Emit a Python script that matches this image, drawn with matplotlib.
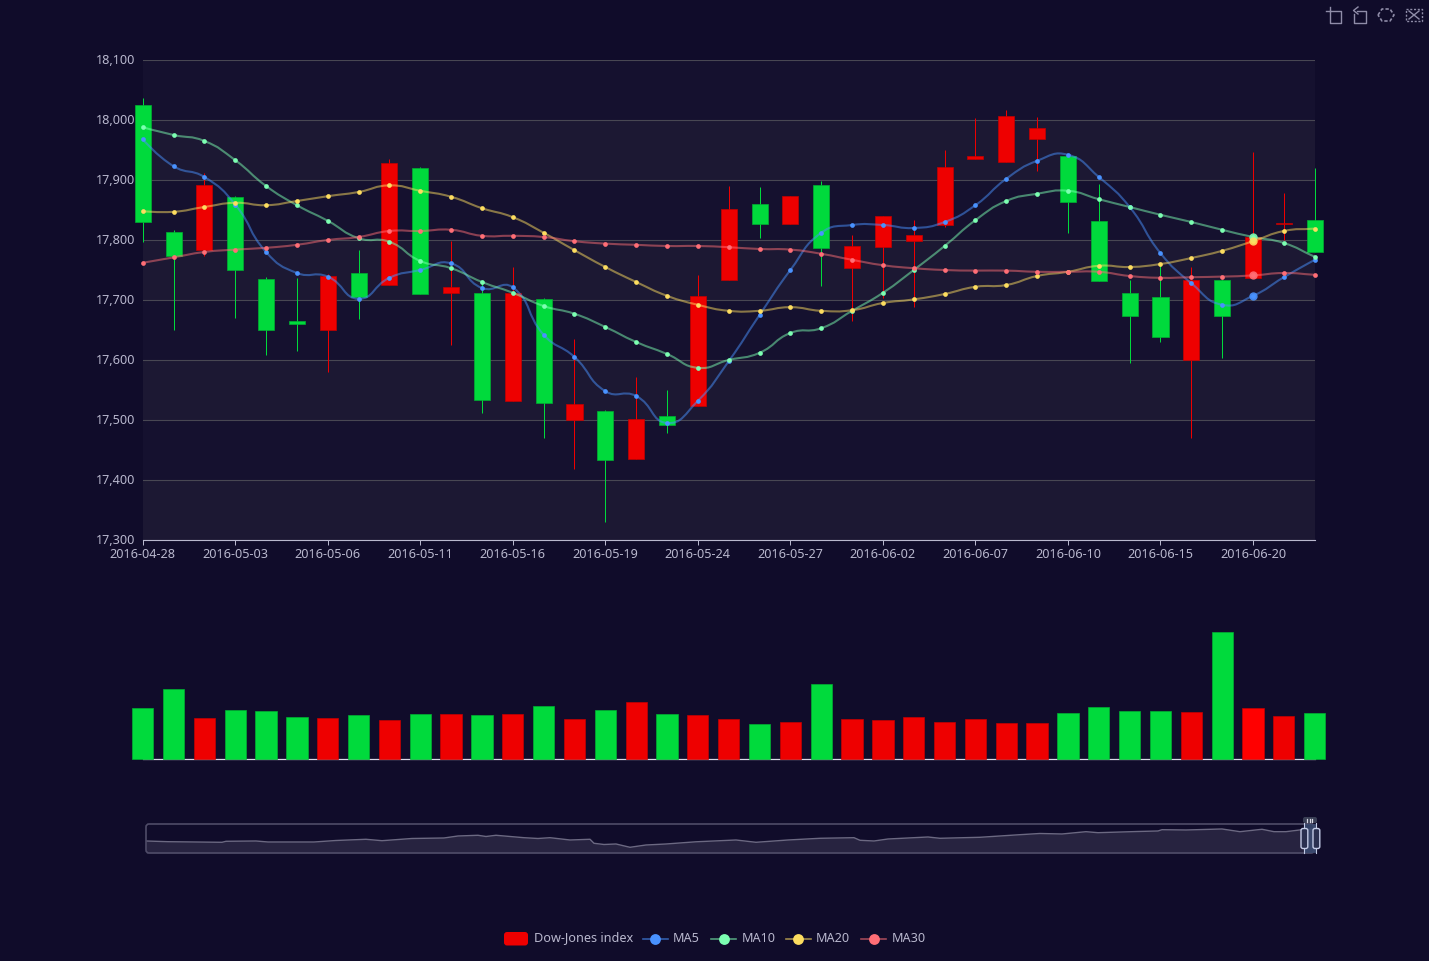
import numpy as np
import matplotlib
matplotlib.use('Agg')
import matplotlib.pyplot as plt
from matplotlib.path import Path
from matplotlib.patches import PathPatch, Rectangle, FancyBboxPatch
from matplotlib.transforms import ScaledTranslation

plt.rcParams['font.family'] = ['Noto Sans', 'DejaVu Sans']

W, H = 1429, 961
BG = '#100c2a'
TXT = '#b9b8ce'
RED = '#ee0000'
GREEN = '#00da3c'
C_MA5, C_MA10, C_MA20, C_MA30 = '#4992ff', '#7cffb2', '#fddd60', '#ff6e76'
FS = 9.1

dates = ['2016-04-28', '2016-04-29', '2016-05-02', '2016-05-03', '2016-05-04', '2016-05-05', '2016-05-06',
         '2016-05-09', '2016-05-10', '2016-05-11', '2016-05-12', '2016-05-13', '2016-05-16', '2016-05-17',
         '2016-05-18', '2016-05-19', '2016-05-20', '2016-05-23', '2016-05-24', '2016-05-25', '2016-05-26',
         '2016-05-27', '2016-05-31', '2016-06-01', '2016-06-02', '2016-06-03', '2016-06-06', '2016-06-07',
         '2016-06-08', '2016-06-09', '2016-06-10', '2016-06-13', '2016-06-14', '2016-06-15', '2016-06-16',
         '2016-06-17', '2016-06-20', '2016-06-21', '2016-06-22']

open_vals = [18025, 17814, 17783, 17872, 17735, 17665, 17650, 17745, 17725, 17920, 17711, 17712, 17531,
             17702, 17500, 17515, 17435, 17507, 17524, 17733, 17860, 17827, 17892, 17754, 17788, 17798,
             17825, 17935, 17930, 17969, 17940, 17832, 17712, 17705, 17600, 17734, 17737, 17827, 17833]
close_vals = [17830, 17773, 17892, 17750, 17650, 17660, 17740, 17705, 17929, 17710, 17721, 17533, 17712,
              17528, 17527, 17434, 17502, 17492, 17707, 17852, 17827, 17873, 17787, 17790, 17840, 17808,
              17921, 17940, 18007, 17987, 17864, 17732, 17673, 17639, 17733, 17674, 17805, 17829, 17780]
low_vals = [17797, 17650, 17773, 17670, 17608, 17615, 17580, 17668, 17725, 17710, 17625, 17512, 17531,
            17470, 17418, 17330, 17435, 17479, 17524, 17733, 17803, 17827, 17724, 17665, 17703, 17689,
            17822, 17935, 17930, 17915, 17812, 17732, 17595, 17630, 17470, 17603, 17737, 17800, 17780]
high_vals = [18036, 17816, 17912, 17873, 17738, 17737, 17743, 17783, 17935, 17921, 17798, 17733, 17755,
             17703, 17635, 17516, 17571, 17550, 17742, 17890, 17888, 17874, 17898, 17809, 17840, 17833,
             17950, 18003, 18017, 18005, 17941, 17893, 17733, 17758, 17755, 17735, 17947, 17878, 17920]

ma5 = [17968, 17923, 17905, 17859, 17780, 17745, 17739, 17702, 17737, 17750, 17761, 17720, 17721, 17642,
       17605, 17548, 17540, 17495, 17532, 17598, 17675, 17750, 17812, 17825, 17825, 17820, 17830, 17858,
       17902, 17932, 17942, 17905, 17855, 17778, 17728, 17692, 17707, 17738, 17767]
ma10 = [17988, 17975, 17965, 17933, 17890, 17858, 17832, 17803, 17797, 17765, 17753, 17730, 17712, 17690,
        17677, 17655, 17630, 17610, 17587, 17600, 17612, 17645, 17653, 17682, 17712, 17750, 17790, 17833,
        17865, 17877, 17882, 17868, 17855, 17842, 17830, 17817, 17805, 17795, 17772]
ma20 = [17848, 17847, 17855, 17862, 17858, 17865, 17873, 17880, 17891, 17882, 17872, 17853, 17838, 17812,
        17783, 17755, 17730, 17707, 17692, 17682, 17682, 17688, 17682, 17683, 17695, 17701, 17710, 17722,
        17725, 17740, 17747, 17757, 17755, 17760, 17770, 17782, 17798, 17815, 17819]
ma30 = [17762, 17771, 17780, 17784, 17787, 17792, 17800, 17805, 17815, 17815, 17817, 17807, 17807, 17805,
        17798, 17794, 17792, 17790, 17790, 17788, 17785, 17784, 17777, 17767, 17758, 17753, 17750, 17749,
        17749, 17747, 17747, 17747, 17740, 17737, 17738, 17739, 17741, 17745, 17742]

# volume in millions, the axis is hidden in the original
volume = [51, 70, 41, 49, 48, 42, 41, 44, 39, 45, 45, 44, 45, 53, 40, 49, 57, 45, 44, 40, 35, 37, 75, 40,
          39, 42, 37, 40, 36, 36, 46, 52, 48, 48, 47, 127, 51, 43.5, 46]

# long range close for the slider background
overview_day = [0, 11, 38, 40, 55, 61, 84, 95, 110, 118, 133, 149, 156, 166, 170, 175, 189, 196, 202, 212,
                222, 224, 229, 235, 242, 250, 260, 275, 295, 305, 321, 337, 354, 357, 364, 371, 391, 397,
                417, 437, 447, 458, 470, 476, 496, 506, 508, 520, 538, 547, 558, 564, 570, 578, 584]
overview_close = [16476, 16386, 16310, 16438, 16476, 16348, 16348, 16540, 16694, 16514, 16796, 16860, 17116,
                  17206, 17052, 17206, 16898, 16796, 16898, 16604, 16694, 16182, 16028, 16092, 15670, 15964,
                  16092, 16374, 16604, 16310, 16604, 16822, 16898, 16566, 16476, 16732, 16988, 16822, 16950,
                  17282, 17436, 17372, 17666, 17538, 17692, 17756, 17922, 17884, 18012, 17666, 17974, 17666,
                  17666, 17922, 18012]

legend_names = ['MA5', 'MA10', 'MA20', 'MA30']


def px_axes(fig, left, top, right, bottom):
    return fig.add_axes([left / W, 1 - bottom / H, (right - left) / W, (bottom - top) / H])


def smooth_path(ax, xs, ys, smooth=0.5):
    # same idea as the bezier smoothing of echarts, done in pixels
    pts = ax.transData.transform(np.column_stack([xs, ys]))
    n = len(pts)
    verts = [pts[0]]
    codes = [Path.MOVETO]
    cp = pts[0]
    for i in range(1, n):
        cur = pts[i]
        prev = pts[i - 1]
        nxt = pts[min(i + 1, n - 1)]
        len_prev = np.hypot(*(cur - prev))
        len_next = np.hypot(*(nxt - cur))
        ratio = len_next / (len_next + len_prev) if len_next + len_prev > 0 else 0
        v = (nxt - prev) * smooth
        verts += [cp, cur - v * (1 - ratio), cur]
        codes += [Path.CURVE4, Path.CURVE4, Path.CURVE4]
        cp = cur + v * ratio
    return Path(ax.transData.inverted().transform(np.array(verts)), codes)


fig = plt.figure(figsize=(W / 100, H / 100), dpi=100, facecolor=BG)

# candlestick grid
ax = px_axes(fig, 142.7, 60, 1314.7, 540)
ax.set_facecolor(BG)
ax.set_xlim(0, 38)
ax.set_ylim(17300, 18100)
y_ticks = np.arange(17300, 18101, 100)
for i in range(len(y_ticks) - 1):
    band = '#1c1833' if i % 2 == 0 else '#15112f'
    ax.axhspan(y_ticks[i], y_ticks[i + 1], color=band, lw=0, zorder=0)
ax.set_yticks(y_ticks)
ax.set_yticklabels(['{:,}'.format(v) for v in y_ticks])
ax.set_xticks(range(0, 39, 3))
ax.set_xticklabels(dates[::3])
ax.grid(axis='y', color='#484753', lw=0.8, zorder=1)
ax.tick_params(axis='y', length=0, labelsize=FS, labelcolor=TXT, pad=5.5)
ax.tick_params(axis='x', length=3.6, width=0.72, color=TXT, labelsize=FS, labelcolor=TXT, pad=2.2)
for s in ['top', 'left', 'right']:
    ax.spines[s].set_visible(False)
ax.spines['bottom'].set_color(TXT)
ax.spines['bottom'].set_linewidth(0.8)
# y labels sit one pixel above their grid line
up_1px = ScaledTranslation(0, 1 / 100, fig.dpi_scale_trans)
for lab in ax.get_yticklabels():
    lab.set_transform(lab.get_transform() + up_1px)

x = np.arange(len(dates))
for i in x:
    up = close_vals[i] > open_vals[i]
    col = RED if up else GREEN
    edge = '#c40000' if up else '#00b032'
    ax.plot([i, i], [low_vals[i], high_vals[i]], color=col, lw=0.72, zorder=2, clip_on=False,
            solid_capstyle='butt', snap=True)
    lo = min(open_vals[i], close_vals[i])
    ax.add_patch(Rectangle((i - 0.26, lo), 0.52, abs(close_vals[i] - open_vals[i]), facecolor=col,
                           edgecolor=edge, lw=0.5, zorder=3, clip_on=False))

hover = 36
for vals, col in [(ma5, C_MA5), (ma10, C_MA10), (ma20, C_MA20), (ma30, C_MA30)]:
    ax.add_patch(PathPatch(smooth_path(ax, x, vals), fill=False, edgecolor=col, lw=1.5, alpha=0.5,
                           zorder=4, clip_on=False))
    ax.plot(x, vals, ls='none', marker='o', ms=3.4, mfc=col, mec='none', zorder=5, clip_on=False)
    ax.plot([hover], [vals[hover]], ls='none', marker='o', ms=6, mfc=col, mec='none', zorder=6, alpha=0.9,
            clip_on=False)

# volume grid
ax2 = px_axes(fig, 142.7, 609, 1314.7, 759)
ax2.set_facecolor('none')
ax2.set_xlim(0, 38)
ax2.set_ylim(0, 150)
ax2.set_yticks([])
ax2.set_xticks([])
for s in ['top', 'left', 'right']:
    ax2.spines[s].set_visible(False)
ax2.spines['bottom'].set_color('#d8d7e6')
ax2.spines['bottom'].set_linewidth(0.9)
for i in x:
    up = close_vals[i] > open_vals[i]
    col = RED if up else GREEN
    if i == hover:
        col = '#ff0000'
    edge = '#c40000' if up else '#00b032'
    ax2.bar(i, volume[i], width=0.69, color=col, edgecolor=edge, lw=0.5, zorder=3, clip_on=False)

# slider background
ax3 = px_axes(fig, 146, 824, 1314, 853)
ax3.set_facecolor('none')
ax3.axis('off')
ax3.set_xlim(0, 584)
ax3.set_ylim(14940, 18650)
ax3.fill_between(overview_day, overview_close, 14940, color='#272340', lw=0, zorder=1)
ax3.plot(overview_day, overview_close, color='#6c6982', lw=1.0, zorder=2)

# everything below is drawn in screen pixels
ov = fig.add_axes([0, 0, 1, 1], facecolor='none')
ov.set_xlim(0, W)
ov.set_ylim(H, 0)
ov.axis('off')

ov.add_patch(FancyBboxPatch((146, 824), 1168, 29, boxstyle='round,pad=0,rounding_size=3',
                            facecolor='none', edgecolor='#4f4c68', lw=1.2, zorder=3))
ov.add_patch(Rectangle((1304.5, 824), 12, 29, facecolor='#3a4a70', edgecolor='none', alpha=0.9, zorder=4))
ov.add_patch(FancyBboxPatch((1303, 817), 14, 6, boxstyle='round,pad=0,rounding_size=2',
                            facecolor='#3a3f55', edgecolor='none', zorder=5))
for bx in [1307.5, 1310, 1312.5]:
    ov.plot([bx, bx], [818.5, 821.5], color='#d8d8e4', lw=0.9, zorder=6)
for hx, hw, mid in [(1301, 6.8, 1304.5), (1313, 6.8, 1316.5)]:
    ov.plot([mid, mid], [823, 853], color='#c3cbe6', lw=0.8, zorder=5)
    ov.add_patch(FancyBboxPatch((hx, 828.5), hw, 20, boxstyle='round,pad=0,rounding_size=2',
                                facecolor='#2a3050', edgecolor='#c3cbe6', lw=1.0, zorder=6))

# legend
ly = 938.5
ov.add_patch(FancyBboxPatch((504, 932), 24, 13.5, boxstyle='round,pad=0,rounding_size=3',
                            facecolor=RED, edgecolor='none'))
ov.text(534, ly - 0.5, 'Dow-Jones index', color=TXT, fontsize=FS, va='center', ha='left')
for name, col, lx in zip(legend_names, [C_MA5, C_MA10, C_MA20, C_MA30], [643, 711.5, 786, 861.5]):
    ov.plot([lx, lx + 25], [ly, ly], color=col, lw=1.2, alpha=0.6)
    ov.plot([lx + 12.5], [ly], marker='o', ms=7.8, mfc=col, mec='none')
    ov.text(lx + 30, ly - 0.5, name, color=TXT, fontsize=FS, va='center', ha='left')

# toolbox icons
IC = '#8f8ca8'
ov.plot([1326, 1341, 1341, 1330, 1330], [10.5, 10.5, 22.5, 22.5, 7], color=IC, lw=1.0)
ov.plot([1357, 1366, 1366, 1354, 1354], [10.5, 10.5, 22.5, 22.5, 14], color=IC, lw=1.0)
ov.plot([1358, 1353.5, 1358], [7, 10.5, 14], color=IC, lw=1.0)
hex_x = [1378, 1382, 1390, 1394, 1390, 1382, 1378]
hex_y = [15, 9, 9, 15, 21, 21, 15]
ov.plot(hex_x, hex_y, color=IC, lw=1.2, ls=(0, (2, 1.2)))
ov.plot([1406, 1422, 1422, 1406, 1406], [9, 9, 21, 21, 9], color=IC, lw=1.0, ls=(0, (1.5, 1.2)))
ov.plot([1409, 1419], [11, 19], color=IC, lw=1.0)
ov.plot([1409, 1419], [19, 11], color=IC, lw=1.0)

fig.savefig('out.png', dpi=100, facecolor=BG)
plt.close()
